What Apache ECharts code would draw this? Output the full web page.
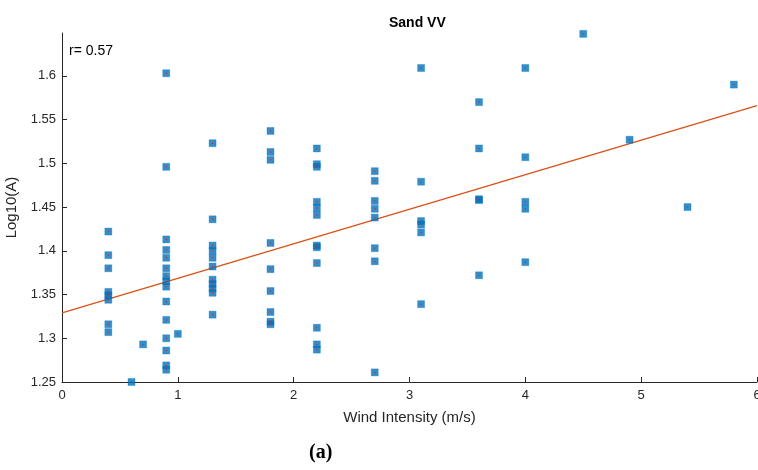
<!DOCTYPE html>
<html>
<head>
<meta charset="utf-8">
<script src="https://cdn.jsdelivr.net/npm/echarts@6/dist/echarts.min.js"></script>
<style>
    html, body {margin: 0; padding: 0; background: #fff;}
    #sand_vv {width: 758px; height: 470px;}
</style>
</head>
<body>
<div id="sand_vv"></div>
<script>
// wind intensity (m/s) and log10(A) of each measurement
var windX = [
    0.4, 0.4, 0.4, 0.4, 0.4, 0.4, 0.4, 0.4,
    0.6, 0.7,
    0.9, 0.9, 0.9, 0.9, 0.9, 0.9, 0.9, 0.9, 0.9, 0.9, 0.9, 0.9, 0.9, 0.9, 0.9,
    1.0,
    1.3, 1.3, 1.3, 1.3, 1.3, 1.3, 1.3, 1.3, 1.3, 1.3, 1.3,
    1.8, 1.8, 1.8, 1.8, 1.8, 1.8, 1.8, 1.8, 1.8,
    2.2, 2.2, 2.2, 2.2, 2.2, 2.2, 2.2, 2.2, 2.2, 2.2, 2.2, 2.2,
    2.7, 2.7, 2.7, 2.7, 2.7, 2.7, 2.7, 2.7,
    3.1, 3.1, 3.1, 3.1, 3.1, 3.1,
    3.6, 3.6, 3.6, 3.6, 3.6,
    4.0, 4.0, 4.0, 4.0, 4.0,
    4.5, 4.9, 5.4, 5.8
];
var logA = [
    1.422, 1.395, 1.380, 1.353, 1.349, 1.344, 1.316, 1.307,
    1.250, 1.293,
    1.603, 1.496, 1.413, 1.401, 1.392, 1.380, 1.371, 1.365, 1.359, 1.342, 1.321, 1.300, 1.286, 1.269, 1.264,
    1.305,
    1.523, 1.436, 1.406, 1.400, 1.392, 1.382, 1.367, 1.362, 1.357, 1.352, 1.327,
    1.537, 1.513, 1.504, 1.409, 1.379, 1.354, 1.330, 1.319, 1.316,
    1.517, 1.499, 1.496, 1.456, 1.449, 1.441, 1.406, 1.404, 1.386, 1.312, 1.293, 1.287,
    1.491, 1.480, 1.457, 1.448, 1.438, 1.403, 1.388, 1.261,
    1.609, 1.479, 1.434, 1.430, 1.421, 1.339,
    1.570, 1.517, 1.459, 1.458, 1.372,
    1.609, 1.507, 1.456, 1.448, 1.387,
    1.648, 1.527, 1.450, 1.590
];

// fitted line end points
var fitX = [0, 6];
var fitY = [1.329, 1.566];

var xTicks = [0, 1, 2, 3, 4, 5, 6];
var yTicks = [1.25, 1.3, 1.35, 1.4, 1.45, 1.5, 1.55, 1.6];

function render(divId) {
    var dom = document.getElementById(divId);
    var myChart = echarts.init(dom, null, {renderer: 'canvas'});

    var points = windX.map(function (x, i) {
        return [x, logA[i]];
    });
    var fit = fitX.map(function (x, i) {
        return [x, fitY[i]];
    });

    var axisColor = '#262626';
    var font = 'Liberation Sans, Arial, sans-serif';

    var option = {
        backgroundColor: '#fff',
        animation: false,
        title: {
            text: 'Sand VV',
            left: 384,
            top: 11,
            textStyle: {fontSize: 14, fontWeight: 'bold', color: '#000', fontFamily: font}
        },
        grid: {left: 62, right: 1, top: 33, bottom: 88, containLabel: false, outerBoundsMode: 'none'},
        xAxis: {
            type: 'value',
            min: 0,
            max: 6,
            interval: 1,
            name: 'Wind Intensity (m/s)',
            nameLocation: 'middle',
            nameGap: 28,
            nameTextStyle: {fontSize: 15, color: axisColor, fontFamily: font},
            axisLine: {lineStyle: {color: axisColor, width: 1}},
            axisTick: {inside: true, length: 5, lineStyle: {color: axisColor}, customValues: xTicks},
            axisLabel: {fontSize: 13, color: axisColor, fontFamily: font, margin: 7, customValues: xTicks},
            splitLine: {show: false}
        },
        yAxis: {
            type: 'value',
            min: 1.25,
            max: 1.649,
            name: 'Log10(A)',
            nameLocation: 'middle',
            nameGap: 36,
            nameTextStyle: {fontSize: 15, color: axisColor, fontFamily: font},
            axisLine: {show: true, lineStyle: {color: axisColor, width: 1}},
            axisTick: {show: true, inside: true, length: 5, lineStyle: {color: axisColor}, customValues: yTicks},
            axisLabel: {fontSize: 13, color: axisColor, fontFamily: font, margin: 6, customValues: yTicks},
            splitLine: {show: false}
        },
        graphic: [
            {
                type: 'text',
                left: 69,
                top: 44,
                style: {text: 'r= 0.57', fill: '#000', font: '14px ' + font}
            },
            {
                type: 'text',
                left: 309,
                top: 443,
                style: {text: '(a)', fill: '#000', font: 'bold 20px "Liberation Serif", "DejaVu Serif", serif'}
            }
        ],
        series: [
            {
                name: 'fit',
                type: 'line',
                data: fit,
                symbol: 'none',
                lineStyle: {color: '#D95319', width: 1.5},
                z: 1
            },
            {
                name: 'samples',
                type: 'scatter',
                symbol: 'rect',
                symbolSize: 7,
                data: points,
                itemStyle: {color: '#0072BD', borderColor: 'rgba(0,114,189,0.4)', borderWidth: 1},
                z: 2
            },
            {
                name: 'centres',
                type: 'scatter',
                symbol: 'circle',
                symbolSize: 1.5,
                data: points,
                itemStyle: {color: '#E0201B'},
                silent: true,
                z: 3
            }
        ]
    };

    if (option && typeof option === 'object') {
        myChart.setOption(option);
    }
}

render('sand_vv');
</script>
</body>
</html>
